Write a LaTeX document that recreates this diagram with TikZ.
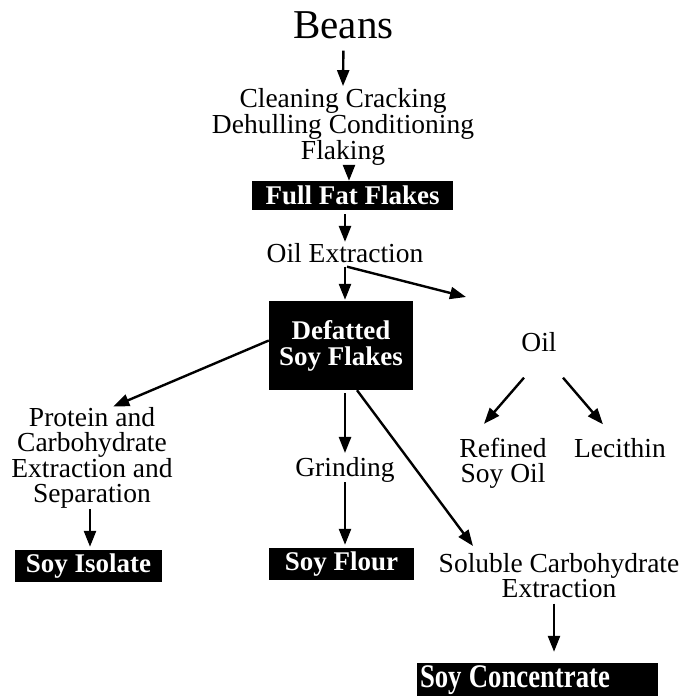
\documentclass[tikz,border=0pt]{standalone}
\usepackage{fontspec}
\setmainfont{Liberation Serif}
\usetikzlibrary{arrows.meta}
\begin{document}
\begin{tikzpicture}[x=1pt,y=-1pt,
  txt/.style={align=center,inner sep=0pt,font=\fontsize{27.5}{25}\selectfont},
  blk/.style={fill=black,text=white,inner sep=0pt,align=center,font=\bfseries\fontsize{27}{26}\selectfont},
  arr/.style={-{Triangle[length=16pt,width=12pt]},line width=2.4pt}]
\useasboundingbox (0,0) rectangle (682,696);

% text nodes
\node[inner sep=0pt,font=\fontsize{41}{41}\selectfont] (beans) at (343.5,24.8) {Beans};
\node[txt] (clean) at (343,126.8) {Cleaning Cracking\\Dehulling Conditioning\\Flaking};
\node[blk,minimum width=201pt,minimum height=29pt] (fff) at (352.5,195.5) {Full Fat Flakes};
\node[txt] (oilx) at (345,252.8) {Oil Extraction};
\node[blk,minimum width=144pt,minimum height=89pt] (dsf) at (341,345.5) {Defatted\\Soy Flakes};
\node[txt] (oil) at (539,341.8) {Oil};
\node[txt] (refined) at (503,463.2) {Refined\\Soy Oil};
\node[txt] (lecithin) at (620,447.8) {Lecithin};
\node[txt] (protein) at (92,458.2) {Protein and\\Carbohydrate\\Extraction and\\Separation};
\node[txt] (grinding) at (345,469.7) {Grinding};
\node[txt] (soluble) at (559,575.3) {Soluble Carbohydrate\\Extraction};
\node[blk,minimum width=147pt,minimum height=32pt] (isolate) at (88.5,566) {Soy Isolate};
\node[blk,minimum width=145pt,minimum height=32pt] (flour) at (341.5,564) {Soy Flour};
\node[fill=black,text=white,inner ysep=0pt,inner xsep=3pt,text width=235pt,align=left,minimum height=35pt] (conc) at (537.5,680.5)
  {\scalebox{0.81}[1]{\bfseries\fontsize{33}{33}\selectfont Soy\hspace{9pt}Concentrate}};

% free ends
\coordinate (oiltip) at (466,297);
\coordinate (stip) at (473,546);

% connectors
\draw[arr,shorten <=12pt,shorten >=2pt] (beans.south) -- (clean.north);
\draw[arr,shorten <=-4pt] ([xshift=6pt]clean.south) -- ([xshift=-3.5pt]fff.north);
\draw[arr,shorten <=4pt,shorten >=1pt] ([xshift=-7.5pt]fff.south) -- (oilx.north);
\draw[arr,shorten <=4pt,shorten >=1pt] (oilx.south) -- ([xshift=4pt]dsf.north);
\draw[arr] ([xshift=2pt,yshift=-4pt]oilx.south) -- (oiltip);
\draw[arr,shorten >=2.5pt] ([yshift=5pt]dsf.west) -- ([xshift=19pt]protein.north);
\draw[arr,shorten <=3pt,shorten >=4pt] ([xshift=4pt]dsf.south) -- (grinding.north);
\draw[arr,shorten >=3pt] (grinding.south) -- ([xshift=3.5pt]flour.north);
\draw[arr] ([xshift=16pt]dsf.south) -- (stip);
\draw[arr] ([xshift=-15pt,yshift=-26pt]oil.south) -- ([xshift=-19pt,yshift=14pt]refined.north);
\draw[arr] ([xshift=24pt,yshift=-26pt]oil.south) -- ([xshift=-17pt,yshift=13.6pt]lecithin.north);
\draw[arr,shorten >=3pt] ([xshift=-2pt]protein.south) -- ([xshift=1.5pt]isolate.north);
\draw[arr,shorten <=6pt,shorten >=11pt] ([xshift=-5pt]soluble.south) -- ([xshift=16.5pt]conc.north);
\end{tikzpicture}
\end{document}
